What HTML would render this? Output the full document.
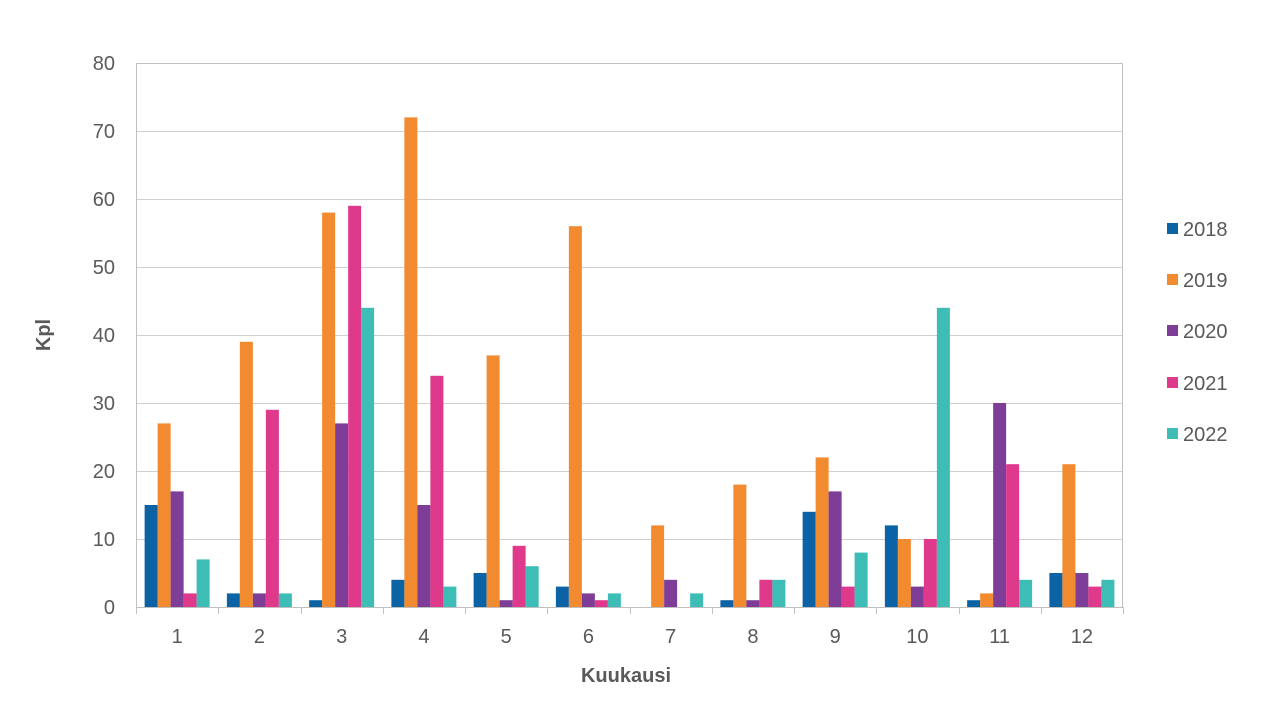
<!DOCTYPE html>
<html><head><meta charset="utf-8"><style>
html,body{margin:0;padding:0;background:#fff;}
svg{display:block;font-family:"Liberation Sans",Arial,sans-serif;}
</style></head><body>
<svg width="1280" height="720" viewBox="0 0 1280 720" xmlns="http://www.w3.org/2000/svg">
<g id="grid" stroke="#d0d0d0" stroke-width="1"></g>
<g id="bars"></g>
<rect x="136.5" y="63.5" width="986" height="544" fill="none" stroke="#bfbfbf" stroke-width="1"/>
<g id="ticks" stroke="#bfbfbf" stroke-width="1"></g>
<g id="ylab" font-size="20" fill="#595959" text-anchor="end"></g>
<g id="xlab" font-size="20" fill="#595959" text-anchor="middle"></g>
<text x="626" y="682" font-size="20" font-weight="bold" fill="#595959" text-anchor="middle">Kuukausi</text>
<text transform="translate(50,335) rotate(-90)" font-size="20" font-weight="bold" fill="#595959" text-anchor="middle">Kpl</text>
<g id="legend" font-size="20" fill="#595959"></g>
</svg>
<script>
var ns="http://www.w3.org/2000/svg";
function el(p,t,a,txt){var e=document.createElementNS(ns,t);for(var k in a)e.setAttribute(k,a[k]);if(txt!==undefined)e.textContent=txt;document.getElementById(p).appendChild(e);}
var x0=136,x1=1123,y0=607,sc=6.8;
for(var v=10;v<80;v+=10){var y=y0-v*sc+0.5;el("grid","line",{x1:x0,x2:x1,y1:y,y2:y});}
for(var v=0;v<=80;v+=10){el("ylab","text",{x:115,y:y0-v*sc+7},v);}
var cw=(x1-x0)/12;
for(var i=0;i<=12;i++){var x=Math.round(x0+i*cw)+0.5;el("ticks","line",{x1:x,x2:x,y1:607,y2:614});}
var cols=["#0b62a4","#f28a30","#7e3e98","#de398b","#3dbdb5"];
var d=[[15,27,17,2,7],[2,39,2,29,2],[1,58,27,59,44],[4,72,15,34,3],[5,37,1,9,6],[3,56,2,1,2],[0,12,4,0,2],[1,18,1,4,4],[14,22,17,3,8],[12,10,3,10,44],[1,2,30,21,4],[5,21,5,3,4]];
for(var i=0;i<12;i++){var cx=x0+i*cw+cw/2;el("xlab","text",{x:cx,y:643},i+1);
 for(var j=0;j<5;j++){var h=d[i][j]*sc;if(h>0)el("bars","rect",{x:cx-32.5+j*13,y:y0-h,width:13,height:h,fill:cols[j]});}}
var yrs=["2018","2019","2020","2021","2022"],ly=[229,280,331,383,434];
for(var j=0;j<5;j++){el("legend","rect",{x:1167,y:ly[j]-6,width:11,height:11,fill:cols[j]});el("legend","text",{x:1183,y:ly[j]+7},yrs[j]);}
</script>
</body></html>
